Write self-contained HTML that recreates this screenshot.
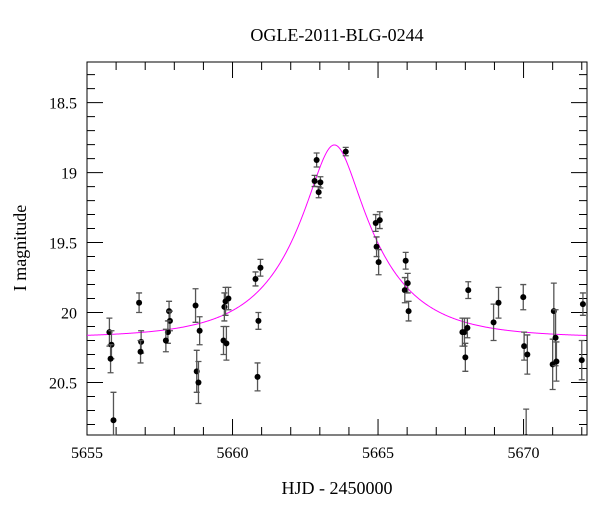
<!DOCTYPE html>
<html><head><meta charset="utf-8"><style>
body{margin:0;background:#fff}
svg text{font-family:"Liberation Serif",serif;fill:#000}
</style></head><body>
<svg id="c" width="600" height="512" xmlns="http://www.w3.org/2000/svg">
<defs><clipPath id="pc"><rect x="87" y="62" width="500" height="373"/></clipPath></defs>
<text x="337" y="41" font-size="18" text-anchor="middle">OGLE-2011-BLG-0244</text>
<text x="337" y="494" font-size="18" text-anchor="middle">HJD - 2450000</text>
<text transform="translate(26,248) rotate(-90)" font-size="18" text-anchor="middle">I magnitude</text>
</svg>
<script>
const days=[5655.77,5655.84,5655.81,5655.91,5656.79,5656.86,5656.84,5657.82,5657.85,5657.78,5657.71,5658.73,5658.87,5658.77,5658.83,5659.72,5659.76,5659.86,5659.69,5659.79,5660.79,5660.96,5660.89,5660.86,5662.89,5662.82,5663.02,5662.96,5663.89,5664.92,5665.06,5664.95,5665.02,5665.95,5665.92,5666.02,5666.05,5667.9,5667.97,5668.07,5668.0,5668.1,5668.97,5669.14,5669.99,5670.02,5670.13,5670.09,5671.04,5671.0,5671.1,5671.13,5672.04,5672.0];
const mags=[20.14,20.23,20.33,20.77,19.93,20.21,20.28,19.99,20.06,20.14,20.2,19.95,20.13,20.42,20.5,19.96,19.92,19.9,20.2,20.22,19.76,19.68,20.06,20.46,18.91,19.06,19.07,19.14,18.85,19.36,19.34,19.53,19.64,19.63,19.84,19.79,19.99,20.14,20.14,20.11,20.32,19.84,20.07,19.93,19.89,20.24,20.3,20.89,19.99,20.37,20.18,20.35,19.94,20.34];
const errs=[0.1,0.1,0.1,0.2,0.07,0.08,0.08,0.07,0.07,0.08,0.08,0.12,0.1,0.15,0.15,0.1,0.1,0.08,0.1,0.12,0.05,0.06,0.06,0.1,0.05,0.04,0.04,0.04,0.03,0.06,0.06,0.07,0.09,0.06,0.09,0.07,0.07,0.1,0.1,0.07,0.1,0.06,0.13,0.11,0.09,0.1,0.14,0.2,0.2,0.18,0.2,0.14,0.08,0.14];
const xTicks=[5655,5660,5665,5670];
const yTicks=[18.5,19,19.5,20,20.5];
const model={t0:5663.5,u0:0.29,tE:2.8,base:20.18};
const L=87,R=587,T=62,B=435;
const X=d=>L+(d-5655)*(R-L)/(5672.18-5655);
const Y=m=>T+(m-18.21)*(B-T)/(20.875-18.21);
const svg=document.getElementById('c'),NS='http://www.w3.org/2000/svg';
function mk(t,a){const e=document.createElementNS(NS,t);for(const k in a)e.setAttribute(k,a[k]);svg.appendChild(e);return e;}
let r=mk('rect',{x:L,y:T,width:R-L,height:B-T,fill:'none',stroke:'#000','stroke-width':1});


for(let d=5655;d<=5672;d++){const maj=d%5===0,len=maj?16:8,x=X(d);
 let t=mk('path',{d:`M${x},${B}v${-len}M${x},${T}v${len}`,stroke:'#000','stroke-width':1});
 
 }
for(let i=0;i<=26;i++){const m=18.3+i*0.1;const maj=Math.abs(m*2-Math.round(m*2))<1e-6,len=maj?16:8,y=Y(m);
 if(y<T||y>B)continue;
 let t=mk('path',{d:`M${L},${y}h${len}M${R},${y}h${-len}`,stroke:'#000','stroke-width':1});
 
 }
xTicks.forEach(v=>{let t=mk('text',{x:X(v),y:B+23,'font-size':16,'text-anchor':'middle'});t.textContent=v;
 
 });
yTicks.forEach(v=>{let t=mk('text',{x:L-10,y:Y(v)+6,'font-size':16,'text-anchor':'end'});t.textContent=v;
 
 });
let p='';for(let d=5655;d<=5672.18;d+=0.02){const tau=(d-model.t0)/model.tE,u2=model.u0*model.u0+tau*tau,u=Math.sqrt(u2),A=(u2+2)/(u*Math.sqrt(u2+4));
 const m=model.base-2.5*Math.log10(A);p+=(p?'L':'M')+X(d).toFixed(2)+','+Y(m).toFixed(2);}
let c=mk('path',{d:p,fill:'none',stroke:'#ff00ff','stroke-width':1});


days.forEach((d,i)=>{const x=X(d),y=Y(mags[i]),e=errs[i]*(B-T)/(20.875-18.21);
 const y1=Math.max(T,y-e),y2=Math.min(B,y+e);
 let g=mk('path',{d:`M${x},${y1}V${y2}M${x-3},${y1}h6M${x-3},${y2}h6`,stroke:'#555','stroke-width':1.3});
 
 
 let o=mk('circle',{cx:x,cy:y,r:3,fill:'#000','clip-path':'url(#pc)'});
 
 });
</script>
</body></html>
